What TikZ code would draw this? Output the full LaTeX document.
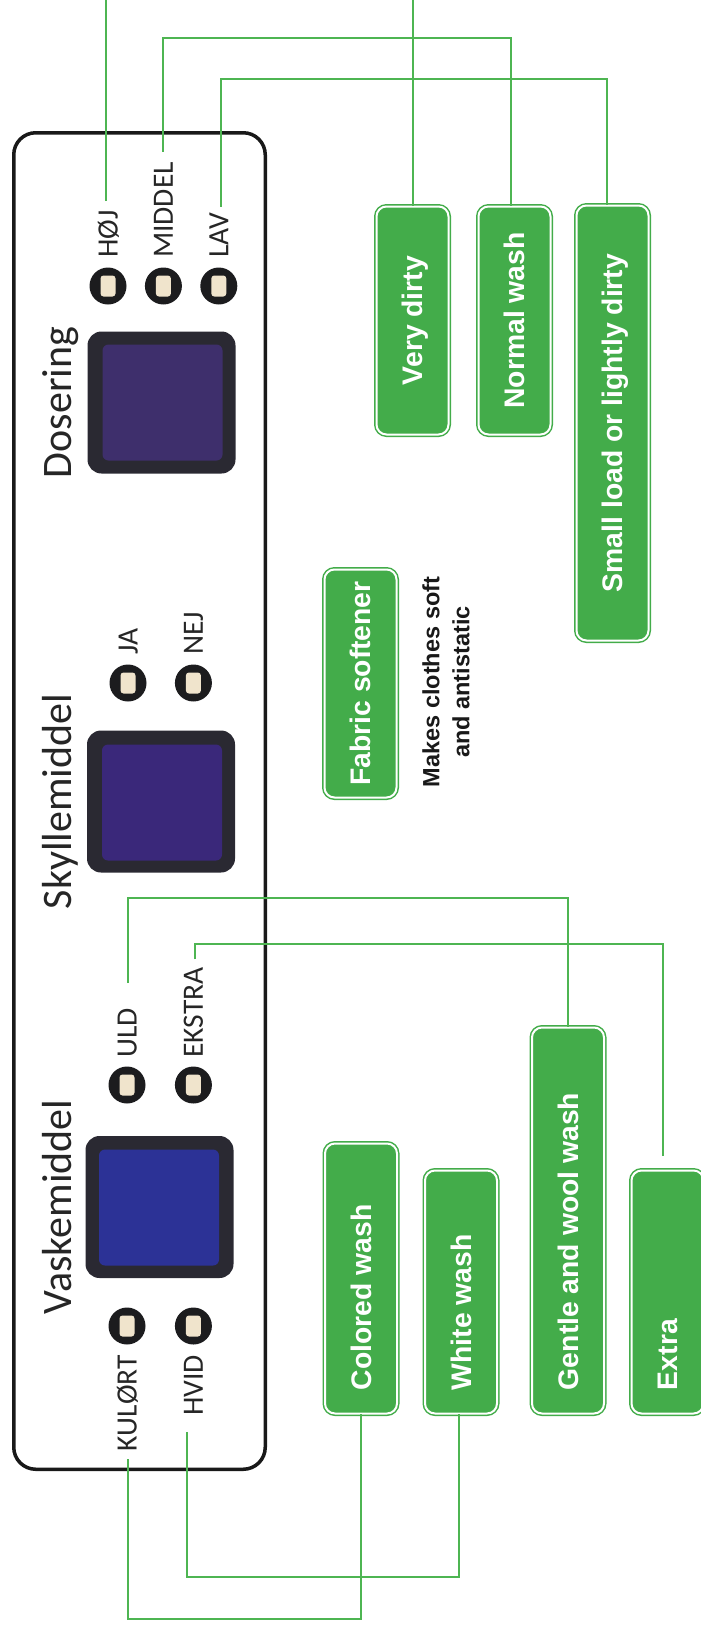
\documentclass[tikz,border=0pt]{standalone}
\usepackage{fontspec}
\usepackage{tikz}
\usetikzlibrary{positioning}
\newfontfamily\panelfont{Carlito}
\newfontfamily\tagfont{Liberation Sans}
\definecolor{tagGreen}{RGB}{67,172,74}
\definecolor{wireGreen}{RGB}{78,181,82}
\definecolor{ledBlack}{RGB}{28,28,30}
\definecolor{ledCream}{RGB}{240,228,204}
\definecolor{bezelGray}{RGB}{42,41,50}
\definecolor{lcdDos}{RGB}{62,47,108}
\definecolor{lcdSky}{RGB}{58,40,122}
\definecolor{lcdVask}{RGB}{44,50,150}
\tikzset{
  panel/.style={draw=black!90, line width=3.5pt, rounded corners=22pt, minimum width=251.5pt, minimum height=1336.5pt, inner sep=0pt},
  bezel/.style={fill=bezelGray, rounded corners=14pt, minimum width=148pt, minimum height=142pt, inner sep=0pt},
  lcd/.style={rounded corners=6pt, minimum width=120pt, minimum height=116pt, inner sep=0pt},
  heading/.style={rotate=90, anchor=base, inner sep=0pt, text=black!85, font=\panelfont\fontsize{42}{44}\selectfont},
  led/.style={circle, fill=ledBlack, minimum size=37pt, inner sep=0pt,
    path picture={\fill[ledCream, rounded corners=3pt] ([xshift=-7.5pt,yshift=-10.5pt]path picture bounding box.center) rectangle ([xshift=7.5pt,yshift=10.5pt]path picture bounding box.center);}},
  ledtext/.style={rotate=90, inner sep=0pt, text height=19pt, text depth=0pt, text=black!85, font=\panelfont\fontsize{29.5}{31}\selectfont},
  tag/.style={rotate=90, draw=tagGreen, double=white, double distance=2pt, line width=1.5pt, fill=tagGreen, rounded corners=10pt,
    minimum height=72pt, inner sep=0pt, text height=20.5pt, text depth=0pt, text=white, font=\tagfont\bfseries\fontsize{28.3}{30}\selectfont},
  note/.style={rotate=90, align=center, inner sep=0pt, text=black!90, font=\tagfont\bfseries\fontsize{23.5}{30}\selectfont},
  wire/.style={draw=wireGreen, line width=2pt}
}
\begin{document}
\begin{tikzpicture}[x=1pt, y=-1pt]
  \useasboundingbox (0,0) rectangle (701,1630);
  \coordinate (top) at (0,0);
  \coordinate (rail_mid) at (0,38);
  \coordinate (rail_lav) at (0,79);
  \coordinate (rail_uld) at (0,898);
  \coordinate (rail_ekstra) at (0,944);
  \coordinate (rail_hvid) at (0,1577);
  \coordinate (rail_kul) at (0,1619);

  \node[panel] (panel) at (139.5,801) {};

  \node[bezel] (dos_disp) at (161.5,402.5) {};
  \node[lcd, fill=lcdDos] (dos_lcd) at (162.5,402.5) {};
  \node[heading] (dos) at ([xshift=-90pt]dos_disp.center) {Dosering};
  \node[led] (hoej_led) at (108,286) {};
  \node[led, right=18pt of hoej_led] (middel_led) {};
  \node[led, right=18pt of middel_led] (lav_led) {};
  \node[ledtext, anchor=west] (hoej) at ([yshift=28pt]hoej_led) {HØJ};
  \node[ledtext, anchor=west] (middel) at ([yshift=28pt]middel_led) {MIDDEL};
  \node[ledtext, anchor=west] (lav) at ([yshift=28pt]lav_led) {LAV};

  \node[bezel] (sky_disp) at (161,801.5) {};
  \node[lcd, fill=lcdSky] (sky_lcd) at (162,802.5) {};
  \node[heading] (sky) at ([xshift=-90pt]sky_disp.center) {Skyllemiddel};
  \node[led] (ja_led) at (128,683) {};
  \node[led, right=28pt of ja_led] (nej_led) {};
  \node[ledtext, anchor=west] (ja) at ([yshift=28pt]ja_led) {JA};
  \node[ledtext, anchor=west] (nej) at ([yshift=28pt]nej_led) {NEJ};

  \node[bezel] (vask_disp) at (159.5,1207) {};
  \node[lcd, fill=lcdVask] (vask_lcd) at (159,1207.5) {};
  \node[heading] (vask) at ([xshift=-88pt]vask_disp.center) {Vaskemiddel};
  \node[led] (uld_led) at (127,1085) {};
  \node[led, right=29pt of uld_led] (ekstra_led) {};
  \node[led] (kulort_led) at (127,1326) {};
  \node[led, right=29pt of kulort_led] (hvid_led) {};
  \node[ledtext, anchor=west] (uld) at ([yshift=27pt]uld_led) {ULD};
  \node[ledtext, anchor=west] (ekstra) at ([yshift=27pt]ekstra_led) {EKSTRA};
  \node[ledtext, anchor=east] (kulort) at ([yshift=-29pt]kulort_led) {KULØRT};
  \node[ledtext, anchor=east] (hvid) at ([yshift=-29pt]hvid_led) {HVID};

  \node[tag, minimum width=228pt] (very) at (412.5,320.5) {Very dirty};
  \node[tag, minimum width=228pt] (normal) at (514.5,320.5) {Normal wash};
  \node[tag, minimum width=435pt] (small) at (612.5,423) {Small load or lightly dirty};
  \node[tag, minimum width=228pt] (softener) at (360.5,683.5) {Fabric softener};
  \node[note] (softener_note) at (446,682) {Makes clothes soft\\and antistatic};
  \node[tag, minimum width=270pt] (colored) at (361,1278.5) {\makebox[223pt][l]{Colored wash}};
  \node[tag, minimum width=243pt] (white) at (461,1292) {\makebox[196pt][l]{White wash}};
  \node[tag, minimum width=386pt] (gentle) at (568,1220.5) {\makebox[339pt][l]{Gentle and wool wash}};
  \node[tag, minimum width=243pt] (extra) at (667.5,1292) {\makebox[196pt][l]{Extra}};

  \draw[wire] ([xshift=-2pt,yshift=9pt]hoej.east) -- ([xshift=-2pt]hoej.east |- top);
  \draw[wire] (very.east) -- (very.east |- top);
  \draw[wire] ([yshift=10pt]middel.east) -- (middel.east |- rail_mid) -| ([xshift=-3.5pt]normal.east);
  \draw[wire] ([xshift=2pt,yshift=6pt]lav.east) -- ([xshift=2pt]lav.east |- rail_lav) -| ([xshift=-5.5pt]small.east);
  \draw[wire] ([xshift=1pt,yshift=25pt]uld.east) -- ([xshift=1pt]uld.east |- rail_uld) -| (gentle.east);
  \draw[wire] ([xshift=2pt,yshift=8pt]ekstra.east) -- ([xshift=2pt]ekstra.east |- rail_ekstra) -| ([xshift=-4.5pt,yshift=13.5pt]extra.east);
  \draw[wire] ([xshift=1pt,yshift=-8pt]kulort.west) -- ([xshift=1pt]kulort.west |- rail_kul) -| (colored.west);
  \draw[wire] ([xshift=-6pt,yshift=-16pt]hvid.west) -- ([xshift=-6pt]hvid.west |- rail_hvid) -| ([xshift=-2pt]white.west);
\end{tikzpicture}
\end{document}
